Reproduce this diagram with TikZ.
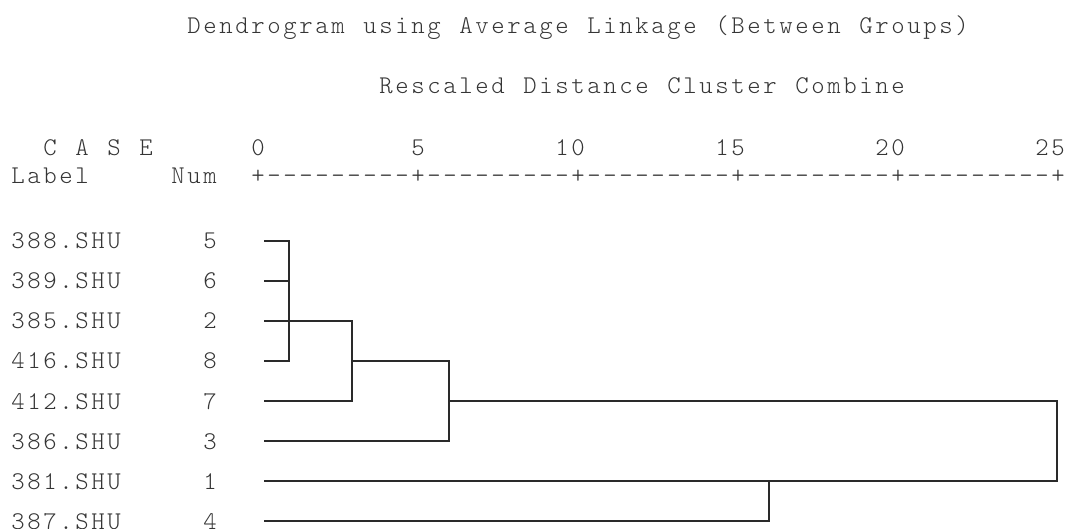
\documentclass[tikz,border=0pt]{standalone}
\usepackage{fontspec}
\newfontfamily\spss{lmmonolt10-regular.otf}
\definecolor{txt}{HTML}{353535}
\definecolor{ink}{HTML}{2A2A2A}
\ExplSyntaxOn
\NewDocumentCommand\cells{m}{\exp_args:Ne\str_map_inline:nn{#1}{\makebox[16pt][c]{##1}}}
\ExplSyntaxOff
\tikzset{
  t/.style={anchor=base west,inner sep=0pt,outer sep=0pt,text=txt,
    font=\spss\fontsize{25.5}{25.5}\selectfont},
  den/.style={draw=ink,line width=1.8pt,line join=miter},
}
\begin{document}
\begin{tikzpicture}[x=1pt,y=-1pt]
\useasboundingbox (0,0) rectangle (1066,529);
% headings
\node[t] (title) at (186,33.5) {\cells{Dendrogram using Average Linkage (Between Groups)}};
\node[t] (sub) at (378,93.5) {\cells{Rescaled Distance Cluster Combine}};
\node[t] (case) at (42,156) {\cells{C A S E}};
\node[t] (s0) at (250,156) {\cells{0}};
\node[t] (s5) at (410,156) {\cells{5}};
\node[t] (s10) at (554,156) {\cells{10}};
\node[t] (s15) at (714,156) {\cells{15}};
\node[t] (s20) at (874,156) {\cells{20}};
\node[t] (s25) at (1034,156) {\cells{25}};
\node[t] (lab) at (10,184) {\cells{Label}};
\node[t] (num) at (170,184) {\cells{Num}};
\node[t] (ruler) at (250,184) {\cells{+---------+---------+---------+---------+---------+}};
% rows
\foreach \lab/\n [count=\i from 0] in {388/5,389/6,385/2,416/8,412/7,386/3,381/1,387/4}{
  \node[t] (lab\n) at (10,249+40*\i) {\cells{\lab.SHU}};
  \node[t] (num\n) at (202,249+40*\i) {\cells{\n}};
  \coordinate (l\n) at (264,241+40*\i);
}
% merge points
\coordinate (a5) at (289,241);
\coordinate (a6) at (289,281);
\coordinate (a8) at (289,361);
\coordinate (b7) at (352,401);
\coordinate (b2) at (352,321);
\coordinate (c1) at (352,361);
\coordinate (c3) at (449,441);
\coordinate (d1) at (449,401);
\coordinate (e1) at (1057,481);
\coordinate (f4) at (769,481);
% dendrogram
\draw[den] (l5) -| (a8) -- (l8);
\draw[den] (l6) -- (a6);
\draw[den] (l2) -| (b7) -- (l7);
\draw[den] (c1) -| (c3) -- (l3);
\draw[den] (d1) -| (e1) -- (l1);
\draw[den] (l4) -| (f4);
\end{tikzpicture}
\end{document}
